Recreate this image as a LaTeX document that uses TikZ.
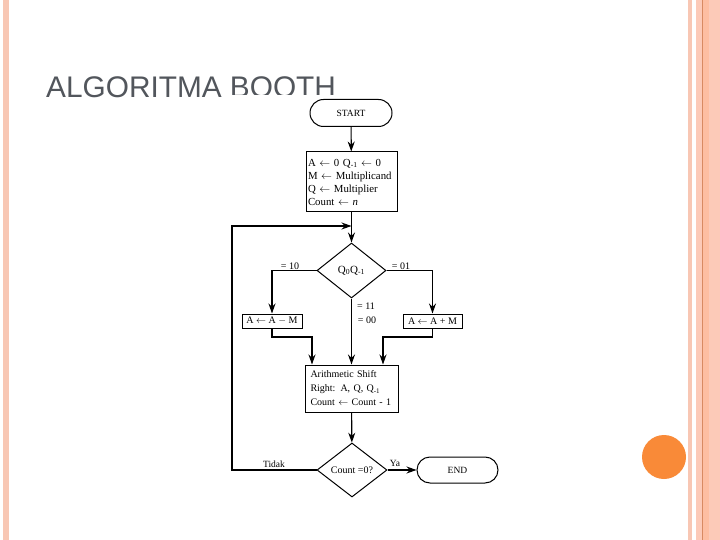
\documentclass[tikz,border=0pt]{standalone}
\usepackage{fontspec}
\setmainfont{Liberation Serif}
\newfontfamily\titlefont{Liberation Sans}
\usetikzlibrary{shapes.misc,shapes.geometric,arrows.meta}
\definecolor{stripeA}{HTML}{F8C7B4}
\definecolor{stripeB}{HTML}{FCCAB8}
\definecolor{stripeC}{HTML}{FDBEA2}
\definecolor{stripeD}{HTML}{D88A62}
\definecolor{dotorange}{HTML}{F98A38}
\definecolor{titlegray}{HTML}{52565C}
\tikzset{
  conn/.style={draw=black, line width=1.1pt},
  arr/.style={conn, -{Stealth[length=10pt,width=7pt]}},
  term/.style={draw=black, line width=1pt, rounded rectangle, inner sep=0pt,
    font=\fontsize{9.5}{11}\selectfont},
  proc/.style={draw=black, line width=1pt, rectangle, inner sep=0pt,
    font=\fontsize{10}{13}\selectfont},
  dec/.style={draw=black, line width=1pt, diamond, inner sep=0pt,
    font=\fontsize{10}{12}\selectfont},
  lbl/.style={inner sep=0pt, font=\fontsize{9.5}{11}\selectfont}
}
\begin{document}
\begin{tikzpicture}[x=1pt,y=-1pt]
\useasboundingbox (0,0) rectangle (720,540);
\fill[white] (0,0) rectangle (720,540);
% slide decoration
\fill[stripeA] (3,0) rectangle (9,540);
\fill[stripeA] (688,0) rectangle (692,540);
\fill[stripeB] (696,0) rectangle (720,540);
\fill[stripeC] (702.5,0) rectangle (709,540);
\draw[stripeD, line width=1pt] (702,0) -- (702,540);
\fill[dotorange] (664,457) circle (22pt);
% title
\node[anchor=base west, inner sep=0pt, text=titlegray,
  font=\titlefont\fontsize{29.8}{32}\selectfont] (title) at (46,98) {ALGORITMA BOOTH};
\fill[white] (226,95) rectangle (505,505);
% flowchart
\node[term, minimum width=82pt, minimum height=27pt] (start) at (351,113) {START};
\node[proc, minimum width=91pt, minimum height=60pt, align=left,
  text width=87pt, font=\fontsize{10.8}{13}\selectfont] (init) at (351.5,182)
  {A $\leftarrow$ 0 Q\textsubscript{-1} $\leftarrow$ 0\\
   M $\leftarrow$ Multiplicand\\
   Q $\leftarrow$ Multiplier\\
   Count $\leftarrow$ \textit{n}};
\node[dec, minimum width=69pt, minimum height=55pt,
  font=\fontsize{11}{12}\selectfont] (d1) at (351.5,270.5)
  {Q\textsubscript{0}Q\textsubscript{-1}};
\node[proc, minimum width=60pt, minimum height=14pt] (lbox) at (272,321)
  {A $\leftarrow$ A $-$ M};
\node[proc, minimum width=59pt, minimum height=14pt] (rbox) at (432.5,321)
  {A $\leftarrow$ A + M};
\node[proc, minimum width=93pt, minimum height=47pt, align=left,
  text width=82pt] (shift) at (351.5,388.5)
  {Arithmetic Shift\\[1pt]
   Right: A, Q, Q\textsubscript{-1}\\[1pt]
   Count $\leftarrow$ Count - 1};
\node[dec, minimum width=70pt, minimum height=54pt] (d2) at (352,470)
  {Count =0?};
\node[term, minimum width=81pt, minimum height=26pt] (end) at (457.5,470) {END};
% labels
\node[lbl, font=\fontsize{10}{11}\selectfont] (l10) at (290,266) {= 10};
\node[lbl, font=\fontsize{10}{11}\selectfont] (l01) at (401,266) {= 01};
\node[lbl, font=\fontsize{10}{11}\selectfont] (l11) at (366,306) {= 11};
\node[lbl, font=\fontsize{10}{11}\selectfont] (l00) at (367,320) {= 00};
\node[lbl] (ltidak) at (274,464) {Tidak};
\node[lbl] (lya) at (395,463) {Ya};
% junction coordinates
\coordinate (jl) at (312,337);
\coordinate (jr) at (383,337);
\coordinate (loopA) at (232,226);
\coordinate (loopB) at (351.5,226);
% connectors
\draw[arr] (start) -- (init);
\draw[arr] (init) -- (d1);
\draw[arr] (d1.west) -| (lbox.north);
\draw[arr] (d1.east) -| (rbox.north);
\draw[arr] (d1.south) -- (shift.north);
\draw[arr] (lbox.south) |- (jl) -- (jl |- shift.north);
\draw[arr] (rbox.south) |- (jr) -- (jr |- shift.north);
\draw[arr] (shift) -- (d2);
\draw[arr] (d2.east) -- (end.west);
\draw[arr] (d2.west) -| (loopA) -- (loopB);
\end{tikzpicture}
\end{document}
